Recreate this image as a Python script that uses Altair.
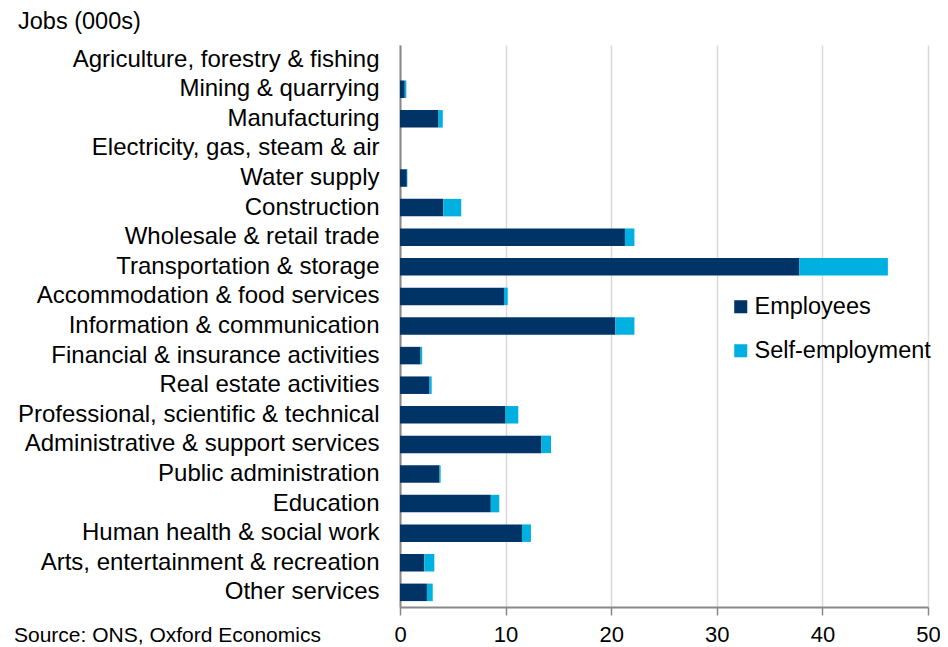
import altair as alt
import pandas as pd

categories = [
    "Agriculture, forestry & fishing", "Mining & quarrying", "Manufacturing",
    "Electricity, gas, steam & air", "Water supply", "Construction",
    "Wholesale & retail trade", "Transportation & storage",
    "Accommodation & food services", "Information & communication",
    "Financial & insurance activities", "Real estate activities",
    "Professional, scientific & technical", "Administrative & support services",
    "Public administration", "Education", "Human health & social work",
    "Arts, entertainment & recreation", "Other services",
]
employees = [0.0, 0.45, 3.65, 0.0, 0.65, 4.1, 21.3, 37.8, 9.85, 20.4,
             1.95, 2.8, 10.0, 13.4, 3.75, 8.6, 11.55, 2.3, 2.55]
self_employment = [0.0, 0.15, 0.4, 0.0, 0.05, 1.7, 0.9, 8.4, 0.35, 1.8,
                   0.15, 0.2, 1.2, 0.9, 0.1, 0.8, 0.85, 0.95, 0.55]
series = ["Employees", "Self-employment"]
colors = ["#003366", "#00B0E0"]

rows = []
for c, e, s in zip(categories, employees, self_employment):
    rows.append({"category": c, "series": series[0], "value": e, "order": 0})
    rows.append({"category": c, "series": series[1], "value": s, "order": 1})
df = pd.DataFrame(rows)

FONT = "Liberation Sans"

bars = alt.Chart(df).mark_bar(size=17.5).encode(
    y=alt.Y("category:N", sort=categories, title=None,
            scale=alt.Scale(paddingInner=0.41, paddingOuter=0.2),
            axis=alt.Axis(labelFontSize=24, labelFont=FONT, labelColor="#000000",
                          labelPadding=21, ticks=False, domainColor="#888888",
                          domainWidth=2, labelLimit=600)),
    x=alt.X("value:Q", title=None,
            scale=alt.Scale(domain=[0, 50], nice=False),
            axis=alt.Axis(values=[0, 10, 20, 30, 40, 50], labelFontSize=22,
                          labelFont=FONT, labelColor="#000000", labelPadding=9,
                          labelFlush=False, labelOverlap=False,
                          tickSize=8, tickColor="#888888", domainColor="#888888",
                          domainWidth=2, tickWidth=1.5, gridColor="#d9d9d9",
                          gridWidth=1.5)),
    color=alt.Color("series:N", scale=alt.Scale(domain=series, range=colors),
                    legend=alt.Legend(title=None, orient="none", legendX=329,
                                      legendY=250, symbolType="square",
                                      symbolSize=170, symbolStrokeWidth=0,
                                      labelFontSize=23.5, labelFont=FONT,
                                      labelColor="#000000", rowPadding=19,
                                      labelOffset=2, labelLimit=400)),
    order=alt.Order("order:Q"),
)

source = alt.Chart(pd.DataFrame({"t": ["Source: ONS, Oxford Economics"]})).mark_text(
    align="left", baseline="middle", fontSize=21, font=FONT, color="#000000"
).encode(x=alt.value(-386), y=alt.value(636 - 45), text="t:N")

chart = alt.layer(bars, source).properties(
    width=528, height=562,
    title=alt.TitleParams("Jobs (000s)", anchor="start", fontSize=23.5, font=FONT,
                          fontWeight="normal", color="#000000", frame="bounds",
                          offset=12, dx=4),
    autosize=alt.AutoSizeParams(type="none"),
    padding={"left": 392, "top": 37, "right": 12, "bottom": 40},
).configure_view(stroke=None)

chart.save("out.html", embed_options={"renderer": "svg", "actions": False})
